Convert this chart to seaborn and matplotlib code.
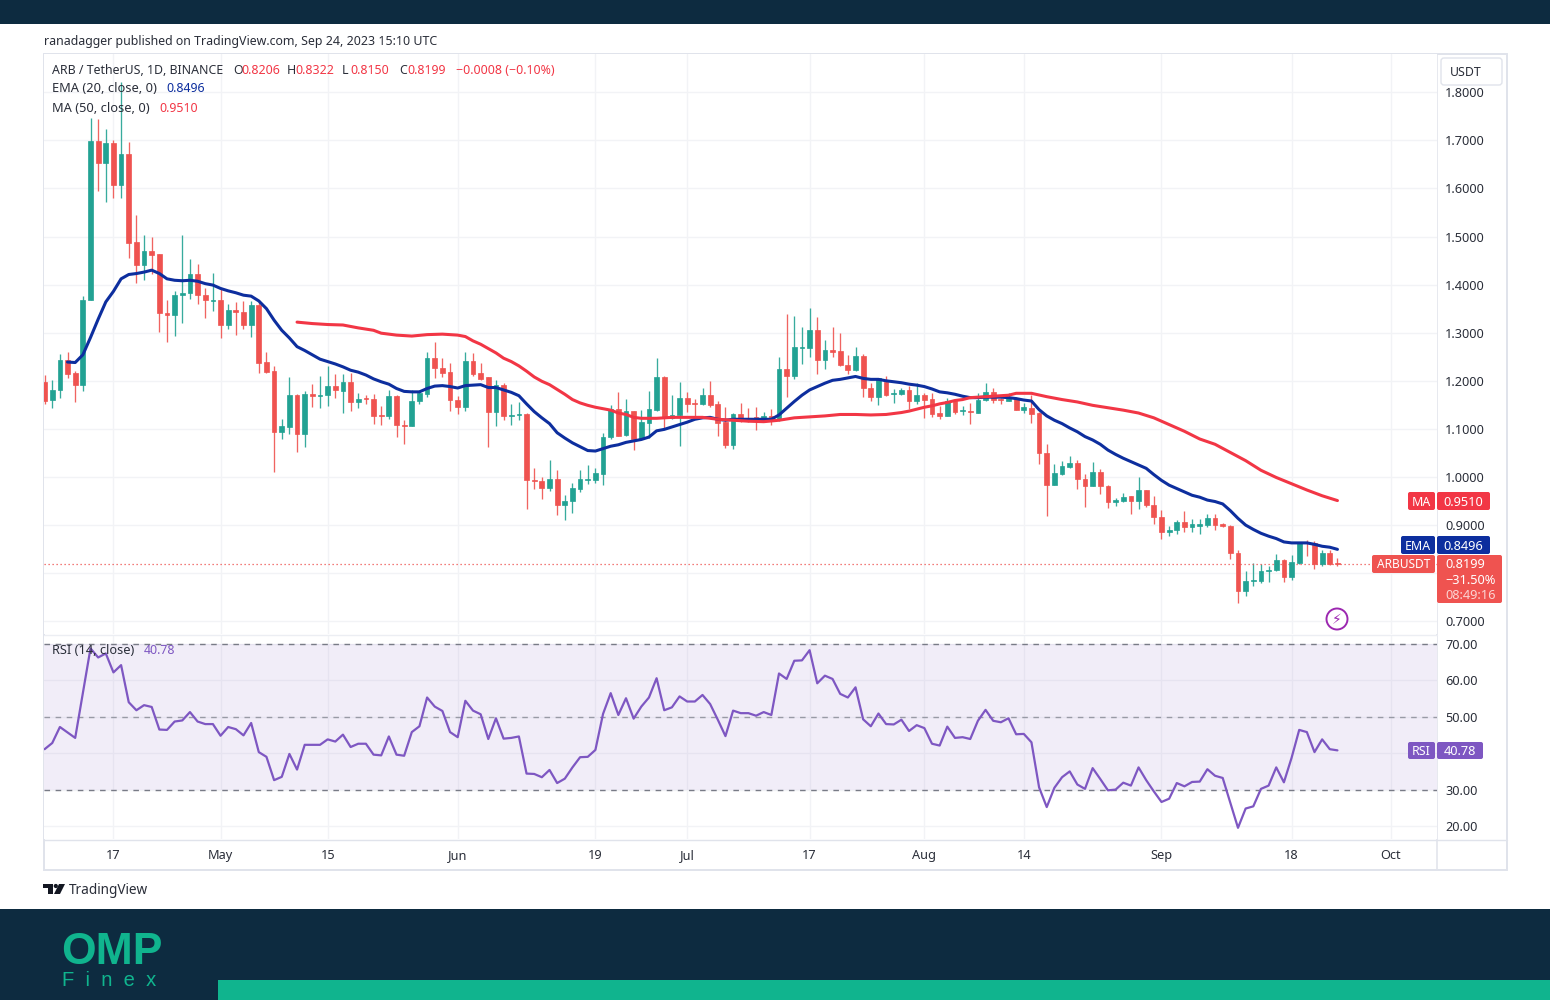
import matplotlib
matplotlib.use("Agg")
import matplotlib.pyplot as plt
from matplotlib.patches import Rectangle, FancyBboxPatch, Circle, Polygon
import numpy as np
import seaborn as sns

opens = [1.198,1.160,1.181,1.243,1.216,1.192,1.367,1.698,1.652,1.695,
 1.607,1.672,1.488,1.440,1.470,1.463,1.341,1.337,1.379,1.383,
 1.423,1.379,1.366,1.368,1.317,1.348,1.343,1.317,1.357,1.239,
 1.221,1.094,1.103,1.170,1.090,1.172,1.169,1.170,1.189,1.179,
 1.198,1.155,1.165,1.163,1.128,1.126,1.168,1.108,1.106,1.159,
 1.172,1.248,1.227,1.218,1.161,1.146,1.241,1.216,1.207,1.135,
 1.191,1.126,1.128,1.131,.994,.992,.978,.995,.942,.951,
 .976,.994,.994,1.007,1.083,1.142,1.087,1.137,1.078,1.113,
 1.140,1.208,1.122,1.128,1.164,1.153,1.151,1.171,1.151,1.115,
 1.066,1.132,1.123,1.124,1.118,1.126,1.118,1.224,1.211,1.269,
 1.269,1.305,1.243,1.265,1.261,1.233,1.223,1.252,1.185,1.166,
 1.197,1.172,1.172,1.181,1.157,1.170,1.163,1.133,1.127,1.157,
 1.137,1.138,1.134,1.160,1.177,1.163,1.158,1.165,1.140,1.144,
 1.133,1.050,.984,1.007,1.021,1.030,.995,.982,1.011,.982,
 .948,.950,.960,.950,.973,.942,.917,.885,.889,.906,
 .896,.899,.901,.914,.903,.899,.843,.762,.784,.784,
 .804,.806,.828,.793,.821,.864,.862,.820,.841,.8206]
highs = [1.212,1.201,1.255,1.260,1.221,1.377,1.746,1.744,1.723,1.700,
 1.821,1.697,1.545,1.504,1.500,1.463,1.369,1.386,1.504,1.454,
 1.443,1.393,1.425,1.391,1.359,1.363,1.366,1.366,1.368,1.260,
 1.230,1.121,1.208,1.173,1.178,1.194,1.210,1.230,1.214,1.214,
 1.216,1.174,1.171,1.172,1.148,1.181,1.170,1.119,1.181,1.181,
 1.259,1.280,1.248,1.237,1.169,1.259,1.257,1.237,1.207,1.201,
 1.195,1.152,1.155,1.133,1.018,1.000,1.036,1.014,.962,.988,
 1.014,1.025,1.019,1.092,1.150,1.176,1.163,1.138,1.139,1.179,
 1.247,1.210,1.170,1.198,1.176,1.163,1.185,1.199,1.158,1.146,
 1.133,1.153,1.144,1.146,1.135,1.141,1.250,1.339,1.335,1.311,
 1.351,1.332,1.285,1.311,1.299,1.253,1.271,1.255,1.195,1.206,
 1.209,1.182,1.184,1.189,1.195,1.174,1.174,1.148,1.165,1.158,
 1.148,1.153,1.174,1.195,1.186,1.164,1.174,1.166,1.154,1.170,
 1.136,1.068,1.027,1.034,1.043,1.036,1.007,1.032,1.016,.983,
 .957,.966,.961,1.000,.974,.961,.931,.899,.910,.929,
 .913,.912,.923,.923,.904,.900,.848,.804,.822,.820,
 .815,.839,.829,.838,.865,.870,.867,.848,.849,.8322]
lows = [1.152,1.144,1.164,1.205,1.155,1.178,1.367,1.595,1.572,1.581,
 1.581,1.456,1.403,1.409,1.421,1.301,1.281,1.294,1.321,1.371,
 1.360,1.330,1.346,1.290,1.308,1.296,1.307,1.292,1.216,1.217,
 1.010,1.078,1.090,1.053,1.063,1.146,1.143,1.148,1.164,1.133,
 1.137,1.144,1.151,1.111,1.108,1.121,1.083,1.069,1.106,1.151,
 1.166,1.206,1.208,1.137,1.130,1.137,1.209,1.201,1.062,1.106,
 1.118,1.108,1.118,.933,.975,.955,.971,.921,.910,.926,
 .969,.985,.987,.984,1.078,1.085,1.086,1.057,1.078,1.081,
 1.138,1.102,1.120,1.064,1.135,1.121,1.150,1.145,1.086,1.060,
 1.059,1.114,1.115,1.097,1.114,1.109,1.116,1.166,1.204,1.235,
 1.250,1.214,1.224,1.249,1.231,1.214,1.220,1.166,1.157,1.150,
 1.168,1.154,1.171,1.141,1.152,1.122,1.125,1.120,1.126,1.131,
 1.129,1.110,1.133,1.159,1.154,1.151,1.157,1.140,1.133,1.113,
 1.028,.919,.983,1.005,1.019,.975,.937,.981,.964,.935,
 .939,.949,.923,.934,.938,.902,.872,.877,.882,.885,
 .886,.881,.897,.890,.897,.830,.739,.752,.773,.779,
 .782,.805,.782,.785,.820,.836,.809,.816,.818,.815]
closes = [1.159,1.181,1.243,1.214,1.192,1.368,1.698,1.652,1.695,1.607,
 1.672,1.487,1.440,1.470,1.462,1.340,1.337,1.379,1.383,1.423,
 1.379,1.367,1.369,1.317,1.348,1.342,1.317,1.357,1.237,1.218,
 1.094,1.105,1.170,1.090,1.173,1.169,1.171,1.189,1.181,1.198,
 1.156,1.163,1.162,1.126,1.126,1.168,1.108,1.106,1.159,1.174,
 1.248,1.226,1.217,1.160,1.146,1.241,1.214,1.204,1.135,1.192,
 1.126,1.129,1.131,.994,.992,.978,.995,.942,.951,.977,
 .995,.996,1.009,1.084,1.141,1.086,1.137,1.079,1.114,1.142,
 1.208,1.122,1.129,1.164,1.151,1.151,1.171,1.149,1.113,1.066,
 1.132,1.123,1.121,1.120,1.127,1.120,1.224,1.211,1.271,1.271,
 1.305,1.243,1.265,1.260,1.232,1.223,1.252,1.184,1.166,1.205,
 1.170,1.175,1.181,1.157,1.170,1.161,1.131,1.127,1.158,1.136,
 1.139,1.136,1.161,1.177,1.160,1.160,1.164,1.140,1.145,1.130,
 1.049,.984,1.009,1.023,1.030,.995,.982,1.011,.981,.948,
 .952,.959,.951,.973,.941,.917,.885,.890,.906,.896,
 .902,.903,.915,.901,.898,.842,.762,.784,.786,.804,
 .806,.827,.793,.823,.864,.862,.820,.841,.819,.8199]

ema_values = [1.239,1.238,1.254,1.290,1.328,1.364,1.386,
 1.412,1.421,1.423,1.426,1.430,1.423,1.412,1.409,1.408,1.409,
 1.407,1.402,1.399,1.392,1.387,1.383,1.378,1.376,1.366,1.350,
 1.326,1.305,1.289,1.271,1.263,1.254,1.245,1.240,1.235,1.229,
 1.222,1.218,1.212,1.204,1.198,1.193,1.184,1.178,1.177,1.177,
 1.184,1.189,1.190,1.188,1.185,1.190,1.191,1.192,1.186,1.186,
 1.181,1.176,1.169,1.152,1.136,1.123,1.111,1.092,1.081,1.071,
 1.063,1.055,1.054,1.059,1.064,1.067,1.072,1.075,1.078,1.083,
 1.096,1.099,1.104,1.109,1.114,1.120,1.123,1.124,1.120,1.118,
 1.120,1.120,1.120,1.120,1.120,1.120,1.129,1.143,1.157,1.170,
 1.181,1.188,1.195,1.201,1.203,1.206,1.209,1.205,1.203,1.203,
 1.200,1.198,1.196,1.193,1.191,1.188,1.183,1.177,1.175,1.172,
 1.168,1.165,1.165,1.166,1.166,1.166,1.165,1.163,1.160,1.158,
 1.140,1.127,1.118,1.111,1.102,1.094,1.084,1.077,1.068,1.056,
 1.047,1.039,1.032,1.025,1.018,1.005,.993,.983,.976,.969,
 .962,.958,.952,.949,.944,.930,.914,.900,.891,.883,
 .877,.872,.865,.863,.863,.863,.860,.856,.854,.8496]
ema_first_day = 3

ma_days = [33,35,37,39,41,43,44,46,48,50,52,54,55,56,57,58,59,60,61,62,63,64,65,66,67,68,69,70,
 71,72,73,74,75,76,77,78,79,80,82,84,86,88,90,92,94,96,98,100,102,104,106,108,110,112,113,114,
 115,116,117,118,119,120,121,122,124,126,127,129,131,133,135,137,139,141,143,145,147,149,151,
 153,155,157,159,161,163,165,167,169]
ma_values = [1.322,1.319,1.317,1.316,1.310,1.305,1.299,1.295,1.293,1.296,1.297,1.295,1.292,1.283,
 1.276,1.267,1.258,1.247,1.240,1.231,1.220,1.208,1.199,1.192,1.182,1.172,1.161,1.154,
 1.149,1.145,1.142,1.139,1.133,1.130,1.124,1.122,1.122,1.122,1.124,1.124,1.124,1.120,1.118,1.116,
 1.115,1.118,1.123,1.125,1.127,1.130,1.130,1.129,1.130,1.134,1.137,1.141,
 1.145,1.148,1.152,1.155,1.159,1.161,1.165,1.166,1.168,1.170,1.174,1.174,1.167,1.161,1.156,1.149,
 1.144,1.139,1.133,1.123,1.109,1.095,1.079,1.068,1.051,1.034,1.014,.999,.986,.973,.961,.951]

rsi_values = [41.1,42.8,47.2,45.7,44.2,56.5,68.8,66.3,67.4,62.2,
 64.2,54.0,51.8,53.2,52.7,46.5,46.4,48.7,49.0,51.3,
 48.7,48.0,48.0,44.8,47.2,46.6,44.9,48.3,40.3,39.0,
 32.6,33.5,39.8,35.5,42.3,42.3,42.3,43.8,43.2,45.1,
 41.7,42.6,42.6,39.6,39.4,44.6,39.6,39.3,45.8,47.4,
 55.3,52.8,51.6,45.8,44.4,54.4,51.7,50.7,43.9,49.6,
 44.0,44.2,44.6,34.4,34.3,33.4,35.4,31.8,33.0,36.1,
 38.9,39.0,40.9,50.8,56.5,50.5,55.1,49.5,52.8,55.3,
 60.6,51.8,52.6,55.6,54.2,54.2,56.0,53.5,49.2,44.7,
 51.7,51.0,51.0,50.3,51.3,50.5,61.9,60.4,65.4,65.5,
 68.3,59.2,61.3,60.4,56.3,55.3,58.1,49.3,47.4,50.9,
 48.0,47.9,49.2,46.1,47.7,46.9,42.6,42.1,47.3,44.2,
 44.4,43.9,48.9,51.9,48.9,48.5,49.6,45.2,45.3,43.0,
 30.6,25.2,30.5,33.4,35.0,31.4,30.2,35.9,32.9,29.8,
 30.0,31.9,31.1,36.1,32.6,29.5,26.6,27.5,31.8,30.9,
 32.1,32.2,35.6,33.8,33.2,26.3,19.5,24.8,25.4,30.2,
 31.1,36.1,32.0,38.7,46.4,45.8,40.3,43.8,41.1,40.78]

price_ticks = [0.7,0.8,0.9,1.0,1.1,1.2,1.3,1.4,1.5,1.6,1.7,1.8]
price_labels = ["0.7000","","0.9000","1.0000","1.1000","1.2000","1.3000","1.4000","1.5000","1.6000","1.7000","1.8000"]
rsi_ticks = [20,30,40,50,60,70]
rsi_labels = ["20.00","30.00","","50.00","60.00","70.00"]
date_ticks = [9,23,37,54,72,84,100,115,128,146,163,176]
date_labels = ["17","May","15","Jun","19","Jul","17","Aug","14","Sep","18","Oct"]

W, H = 1550, 1000
NAVY = "#0d2b40"; TEAL = "#10b48e"; GRID = "#f2f3f6"; BORDER = "#e0e3eb"
GREEN = "#22a293"; RED = "#ef5350"; MA_RED = "#f23645"; BLUE = "#0d2e9e"; PURPLE = "#7e57c2"
TXT = "#2a2e39"

sns.set_theme(style="white")
FONT = ["Noto Sans", "DejaVu Sans"]
plt.rcParams["font.family"] = FONT
fig = plt.figure(figsize=(W / 100, H / 100), dpi=100, facecolor="white")

def px_axes(x0, y0, x1, y1, **kw):
    return fig.add_axes([x0 / W, 1 - y1 / H, (x1 - x0) / W, (y1 - y0) / H], **kw)

under = px_axes(0, 0, W, H, zorder=0)
under.set_xlim(0, W); under.set_ylim(H, 0); under.axis("off")
over = px_axes(0, 0, W, H, zorder=10)
over.set_xlim(0, W); over.set_ylim(H, 0); over.axis("off"); over.patch.set_alpha(0)

under.add_patch(Rectangle((0, 0), W, 24, color=NAVY, lw=0))
under.add_patch(Rectangle((0, 909), W, 91, color=NAVY, lw=0))
under.add_patch(Rectangle((218, 980), W - 218, 20, color=TEAL, lw=0))

main = px_axes(44, 54, 1437, 634, zorder=2)
rsi = px_axes(44, 636, 1437, 839, zorder=2)
to_day = lambda x: (x - 44.6) / 7.65
for ax in (main, rsi):
    ax.set_xlim(to_day(44), to_day(1437))
    for s in ax.spines.values():
        s.set_visible(False)
    ax.yaxis.tick_right()
    ax.set_xticks(date_ticks)
    ax.grid(True, color=GRID, lw=1)
    ax.set_axisbelow(True)
    ax.tick_params(length=0, labelsize=9.2, labelcolor=TXT, pad=5.8)
main.set_ylim((958 - 634) / 481, (958 - 54) / 481)
rsi.set_ylim(70 - (839 - 644) / 3.64, 70 + (644 - 636) / 3.64)

days = np.arange(len(closes))
o, h, l, c = map(np.array, (opens, highs, lows, closes))
colors = np.where(c >= o, GREEN, RED)
main.vlines(days, l, h, colors=colors, lw=0.95, zorder=3, alpha=0.9)
main.bar(days, np.abs(c - o), bottom=np.minimum(o, c), width=0.62, color=colors,
         edgecolor=colors, lw=0.5, zorder=4)
main.axhline(closes[-1], color=RED, lw=0.9, ls=(0, (1, 2.2)), zorder=3)

ema_days = np.arange(ema_first_day, ema_first_day + len(ema_values))
sns.lineplot(x=ema_days, y=ema_values, ax=main, color=BLUE, lw=2.2, zorder=5, errorbar=None, sort=False)
sns.lineplot(x=ma_days, y=ma_values, ax=main, color=MA_RED, lw=2.2, zorder=6, errorbar=None, sort=False)
main.set_yticks(price_ticks, price_labels)
main.tick_params(axis="x", labelbottom=False)
main.set_xlabel(""); main.set_ylabel("")

rsi.axhspan(30, 70, color=PURPLE, alpha=0.1, lw=0, zorder=1)
for lv, a in ((70, 1.0), (50, 0.7), (30, 1.0)):
    rsi.axhline(lv, color="#787b86", lw=1.0, ls=(0, (4, 4)), alpha=a, zorder=2)
sns.lineplot(x=days, y=rsi_values, ax=rsi, color=PURPLE, lw=1.6, zorder=4, errorbar=None, sort=False)
rsi.set_yticks(rsi_ticks, rsi_labels)
rsi.set_xticks(date_ticks, date_labels)
rsi.tick_params(axis="x", pad=7.5)
rsi.set_xlabel(""); rsi.set_ylabel("")
for ax in (main, rsi):
    for t in ax.get_yticklabels():
        t.set_verticalalignment("center_baseline")

# frame
under.add_patch(Rectangle((43.5, 53.5), 1463, 816.5, fc="white", ec=BORDER, lw=1.4))
under.plot([1437, 1437], [54, 870], color=BORDER, lw=1.1, zorder=5)
over.plot([44, 1437], [634.5, 634.5], color="#eceef3", lw=1.0)
under.plot([44, 1507], [839.5, 839.5], color=BORDER, lw=1.0, zorder=5)

def txt(x, y, s, color=TXT, size=8.9, ha="left", **kw):
    return over.text(x, y - 0.5, s, color=color, fontsize=size, ha=ha, va="center_baseline", **kw)

txt(44, 40, "ranadagger published on TradingView.com, Sep 24, 2023 15:10 UTC", size=8.95)
txt(52, 70, "ARB / TetherUS, 1D, BINANCE")
ohlc = [(233, "O", "0.8206"), (287, "H", "0.8322"), (342, "L", "0.8150"), (399, "C", "0.8199")]
for x, k, v in ohlc:
    txt(x, 70, k)
    txt(x + 8, 70, v, color=MA_RED)
txt(456, 70, "\u22120.0008 (\u22120.10%)", color=MA_RED)
txt(52, 88, "EMA (20, close, 0)", size=9.25)
txt(166, 88, "0.8496", color=BLUE)
txt(52, 107, "MA (50, close, 0)", size=9.25)
txt(159, 107, "0.9510", color=MA_RED)
txt(52, 649, "RSI (14, close)", size=9.2)
txt(144, 649, "40.78", color=PURPLE)

def box(x0, y0, x1, y1, color, alpha=1.0):
    over.add_patch(FancyBboxPatch((x0 + 1, y0 + 1), x1 - x0 - 2, y1 - y0 - 2,
                                  boxstyle="round,pad=1,rounding_size=2", fc=color, ec="none", alpha=alpha))

over.add_patch(FancyBboxPatch((1442, 59), 59, 25, boxstyle="round,pad=1,rounding_size=3", fc="white", ec=BORDER, lw=1))
txt(1466, 71.5, "USDT", ha="center", size=8.9)

box(1408, 492, 1435, 510, MA_RED); txt(1421.5, 501, "MA", color="white", ha="center")
box(1437, 492, 1490, 510, MA_RED); txt(1463.5, 501, "0.9510", color="white", ha="center", size=9.2)
box(1401, 536, 1435, 554, BLUE); txt(1418, 545, "EMA", color="white", ha="center")
box(1437, 536, 1490, 554, BLUE); txt(1463.5, 545, "0.8496", color="white", ha="center", size=9.2)
box(1372, 555, 1435, 573, RED); txt(1403.5, 564, "ARBUSDT", color="white", ha="center", size=8.6)
box(1437, 555, 1502, 603, RED)
txt(1445, 564, "0.8199", color="white", size=9.2)
txt(1445, 579.5, "\u221231.50%", color="white", size=9.2)
txt(1445, 594.5, "08:49:16", color="#fbd3d2", size=9.2)
box(1408, 742, 1435, 759, PURPLE); txt(1421.5, 750.5, "RSI", color="white", ha="center")
box(1437, 742, 1483, 759, PURPLE); txt(1460, 750.5, "40.78", color="white", ha="center", size=9.2)

over.add_patch(Circle((1337, 619), 10.5, fc="white", ec="#9c27b0", lw=1.4))
txt(1337, 619, "\u26a1", color="#9c27b0", ha="center", size=10, family="DejaVu Sans")

# TradingView mark
over.add_patch(Polygon([(43, 884), (53, 884), (53, 894), (48, 894), (48, 888), (43, 888)], color="#131722", lw=0))
over.add_patch(Circle((55.8, 886), 2.1, color="#131722", lw=0))
over.add_patch(Polygon([(59, 884), (65, 884), (60, 894), (54, 894)], color="#131722", lw=0))
txt(69, 889.5, "TradingView", color="#2a2e39", size=9.8)

# OMP Finex logo
txt(61, 949, "OMP", color=TEAL, size=32, fontweight="bold", family=["Liberation Sans", "DejaVu Sans"])
txt(62, 978.5, "F  i  n  e  x", color=TEAL, size=14.5, family=["Liberation Sans", "DejaVu Sans"])

assert len(opens) == len(highs) == len(lows) == len(closes) == len(rsi_values) == 170
assert len(ma_days) == len(ma_values) and len(ema_values) == 167
fig.savefig("out.png", dpi=100, facecolor="white")
